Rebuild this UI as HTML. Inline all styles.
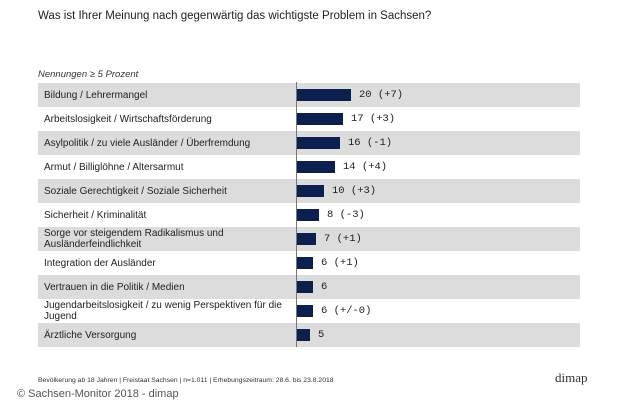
<!DOCTYPE html>
<html><head><meta charset="utf-8"><style>
body{margin:0;width:620px;height:413px;background:#fff;font-family:"Liberation Sans",sans-serif;position:relative;overflow:hidden}
.t{position:absolute;white-space:nowrap}
.row{position:absolute;left:38px;width:542px;height:24px}
.g{background:#dcdcdc}
.lab{position:absolute;left:6px;font-size:10px;color:#222;line-height:11px}
.bar{position:absolute;left:259px;height:12px;top:6px;background:#0d1f4f}
.val{position:absolute;font-family:"Liberation Mono",monospace;font-size:10.5px;color:#222;top:6px;line-height:12px}
.div{position:absolute;left:296px;top:82px;width:1px;height:265px;background:#777}
</style></head><body>
<div class="t" style="left:38px;top:10px;font-size:11.5px;color:#222">Was ist Ihrer Meinung nach gegenwärtig das wichtigste Problem in Sachsen?</div>
<div class="t" style="left:38px;top:69px;font-size:9.5px;font-style:italic;color:#333">Nennungen ≥ 5 Prozent</div>

<div class="row g" style="top:83px"><div class="lab" style="top:7px">Bildung / Lehrermangel</div><div class="bar" style="width:54px"></div><div class="val" style="left:321px">20 (+7)</div></div>
<div class="row" style="top:107px"><div class="lab" style="top:7px">Arbeitslosigkeit / Wirtschaftsförderung</div><div class="bar" style="width:46px"></div><div class="val" style="left:313px">17 (+3)</div></div>
<div class="row g" style="top:131px"><div class="lab" style="top:7px">Asylpolitik / zu viele Ausländer / Überfremdung</div><div class="bar" style="width:43px"></div><div class="val" style="left:310px">16 (-1)</div></div>
<div class="row" style="top:155px"><div class="lab" style="top:7px">Armut / Billiglöhne / Altersarmut</div><div class="bar" style="width:38px"></div><div class="val" style="left:305px">14 (+4)</div></div>
<div class="row g" style="top:179px"><div class="lab" style="top:7px">Soziale Gerechtigkeit / Soziale Sicherheit</div><div class="bar" style="width:27px"></div><div class="val" style="left:294px">10 (+3)</div></div>
<div class="row" style="top:203px"><div class="lab" style="top:7px">Sicherheit / Kriminalität</div><div class="bar" style="width:22px"></div><div class="val" style="left:289px">8 (-3)</div></div>
<div class="row g" style="top:227px"><div class="lab" style="top:1px">Sorge vor steigendem Radikalismus und<br>Ausländerfeindlichkeit</div><div class="bar" style="width:19px"></div><div class="val" style="left:286px">7 (+1)</div></div>
<div class="row" style="top:251px"><div class="lab" style="top:7px">Integration der Ausländer</div><div class="bar" style="width:16px"></div><div class="val" style="left:283px">6 (+1)</div></div>
<div class="row g" style="top:275px"><div class="lab" style="top:7px">Vertrauen in die Politik / Medien</div><div class="bar" style="width:16px"></div><div class="val" style="left:283px">6</div></div>
<div class="row" style="top:299px"><div class="lab" style="top:1px">Jugendarbeitslosigkeit / zu wenig Perspektiven für die<br>Jugend</div><div class="bar" style="width:16px"></div><div class="val" style="left:283px">6 (+/-0)</div></div>
<div class="row g" style="top:323px"><div class="lab" style="top:7px">Ärztliche Versorgung</div><div class="bar" style="width:13px"></div><div class="val" style="left:280px">5</div></div>
<div class="div"></div>

<div class="t" style="left:38px;top:377px;font-size:6.8px;color:#333">Bevölkerung ab 18 Jahren | Freistaat Sachsen | n=1.011 | Erhebungszeitraum: 28.6. bis 23.8.2018</div>
<div class="t" style="left:555px;top:370px;font-size:13px;font-family:'Liberation Serif',serif;color:#333">dimap</div>
<div class="t" style="left:17px;top:388px;font-size:11px;color:#555">© Sachsen-Monitor 2018 - dimap</div>
</body></html>
